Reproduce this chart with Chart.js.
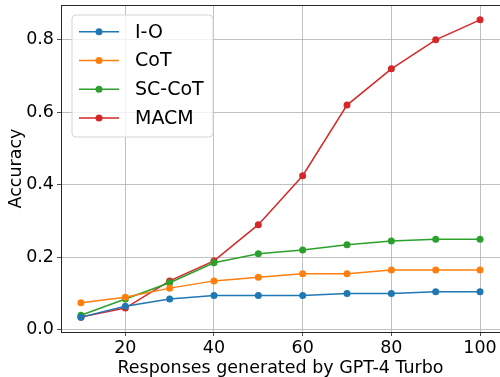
<!DOCTYPE html>
<html>
<head>
<meta charset="utf-8">
<script src="https://cdn.jsdelivr.net/npm/chart.js@4/dist/chart.umd.min.js"></script>
<style>
    html, body { margin: 0; padding: 0; background: #fff; overflow: hidden; }
    #wrap { width: 500px; height: 379px; position: relative; }
</style>
</head>
<body>
<div id="wrap"><canvas id="acc-chart"></canvas></div>
<script>
const responses = [10, 20, 30, 40, 50, 60, 70, 80, 90, 100];
const ioAcc = [0.035, 0.065, 0.085, 0.095, 0.095, 0.095, 0.100, 0.100, 0.105, 0.105];
const cotAcc = [0.075, 0.090, 0.115, 0.135, 0.145, 0.155, 0.155, 0.165, 0.165, 0.165];
const scCotAcc = [0.040, 0.085, 0.130, 0.185, 0.210, 0.220, 0.235, 0.245, 0.250, 0.250];
const macmAcc = [0.035, 0.060, 0.135, 0.190, 0.290, 0.425, 0.620, 0.720, 0.800, 0.855];
const xTicks = [20, 40, 60, 80, 100];
const yTicks = [0.0, 0.2, 0.4, 0.6, 0.8];

const font = 'DejaVu Sans';

const mkSeries = (label, values, color) => ({
    label: label,
    data: responses.map((x, i) => ({ x: x, y: values[i] })),
    borderColor: color,
    backgroundColor: color,
    borderWidth: 1.5,
    pointRadius: 3.5,
    pointHoverRadius: 3.5,
    pointBorderWidth: 0
});

const datasets = [
    mkSeries('I-O', ioAcc, '#1f77b4'),
    mkSeries('CoT', cotAcc, '#ff7f0e'),
    mkSeries('SC-CoT', scCotAcc, '#2ca02c'),
    mkSeries('MACM', macmAcc, '#d62728')
];

const noPad = (s) => {
    s.paddingLeft = 0;
    s.paddingRight = 0;
    s.paddingTop = 0;
    s.paddingBottom = 0;
};

// matplotlib-like frame and legend box inside the plot
const framePlugin = {
    id: 'frame',
    afterDatasetsDraw(chart) {
        const { ctx, chartArea: a } = chart;
        ctx.save();
        ctx.strokeStyle = '#262626';
        ctx.lineWidth = 1;
        ctx.strokeRect(a.left + 0.5, a.top + 0.5, a.right - a.left, a.bottom - a.top);

        // legend
        const bx = 72, by = 15, bw = 141, bh = 122, r = 4;
        ctx.beginPath();
        ctx.moveTo(bx + r, by);
        ctx.arcTo(bx + bw, by, bx + bw, by + bh, r);
        ctx.arcTo(bx + bw, by + bh, bx, by + bh, r);
        ctx.arcTo(bx, by + bh, bx, by, r);
        ctx.arcTo(bx, by, bx + bw, by, r);
        ctx.closePath();
        ctx.fillStyle = 'rgba(255,255,255,0.8)';
        ctx.fill();
        ctx.strokeStyle = '#d5d5d5';
        ctx.stroke();

        ctx.font = '19px "' + font + '"';
        ctx.textBaseline = 'middle';
        chart.data.datasets.forEach((ds, i) => {
            const y = 31.7 + i * 28.8;
            ctx.strokeStyle = ds.borderColor;
            ctx.lineWidth = 1.5;
            ctx.beginPath();
            ctx.moveTo(79, y);
            ctx.lineTo(119, y);
            ctx.stroke();
            ctx.fillStyle = ds.borderColor;
            ctx.beginPath();
            ctx.arc(99, y, 3.5, 0, Math.PI * 2);
            ctx.fill();
            ctx.fillStyle = '#000';
            ctx.fillText(ds.label, 135, y + 1);
        });
        ctx.restore();
    }
};

new Chart(document.getElementById('acc-chart').getContext('2d'), {
    type: 'line',
    data: { datasets: datasets },
    plugins: [framePlugin],
    options: {
        responsive: true,
        maintainAspectRatio: false,
        animation: false,
        layout: { autoPadding: false, padding: { left: 0, right: 0, top: 5, bottom: 0 } },
        plugins: {
            legend: { display: false },
            tooltip: { enabled: false }
        },
        scales: {
            x: {
                type: 'linear',
                min: 5.5,
                max: 104.5,
                afterBuildTicks: (s) => { s.ticks = xTicks.map(v => ({ value: v })); },
                afterFit: (s) => {
                    s.height = 47;
                    noPad(s);
                },
                grid: { color: '#b0b0b0', lineWidth: 0.8, tickLength: 4, tickColor: '#262626' },
                border: { display: false },
                ticks: {
                    color: '#000',
                    padding: 2,
                    maxRotation: 0,
                    font: { family: font, size: 17.5 },
                    callback: (v) => String(v)
                },
                title: {
                    display: true,
                    text: 'Responses generated by GPT-4 Turbo',
                    color: '#000',
                    font: { family: font, size: 17.5 },
                    padding: { top: 0, bottom: 0 }
                }
            },
            y: {
                type: 'linear',
                min: -0.006,
                max: 0.896,
                afterBuildTicks: (s) => { s.ticks = yTicks.map(v => ({ value: v })); },
                afterFit: (s) => {
                    s.width = 61;
                    noPad(s);
                },
                grid: { color: '#b0b0b0', lineWidth: 0.8, tickLength: 4, tickColor: '#262626' },
                border: { display: false },
                ticks: {
                    color: '#000',
                    padding: 3,
                    font: { family: font, size: 17.5 },
                    callback: (v) => v.toFixed(1)
                },
                title: {
                    display: true,
                    text: 'Accuracy',
                    color: '#000',
                    font: { family: font, size: 17.5 },
                    padding: { top: 6, bottom: 2 }
                }
            }
        }
    }
});
</script>
</body>
</html>
